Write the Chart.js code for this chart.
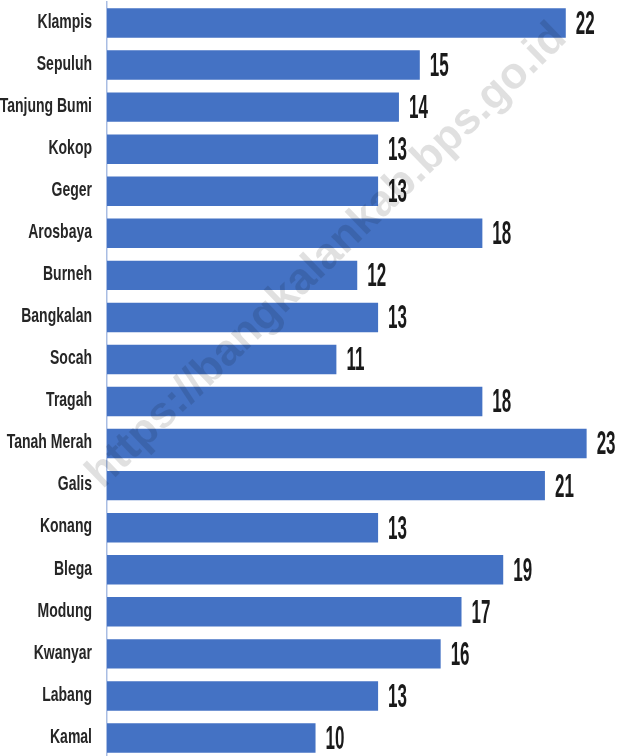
<!DOCTYPE html>
<html>
<head>
<meta charset="utf-8">
<script src="https://cdn.jsdelivr.net/npm/chart.js@4.4.1/dist/chart.umd.min.js"></script>
<style>
  html, body { margin: 0; padding: 0; background: #fff; overflow: hidden; }
  #wrap { position: relative; width: 620px; height: 760px; }
</style>
</head>
<body>
<div id="wrap"><canvas id="kecChart"></canvas></div>
<script>
// Kecamatan di Kabupaten Bangkalan
const kecamatan = ['Klampis', 'Sepuluh', 'Tanjung Bumi', 'Kokop', 'Geger', 'Arosbaya', 'Burneh',
    'Bangkalan', 'Socah', 'Tragah', 'Tanah Merah', 'Galis', 'Konang', 'Blega', 'Modung',
    'Kwanyar', 'Labang', 'Kamal'];
const jumlah = [22, 15, 14, 13, 13, 18, 12, 13, 11, 18, 23, 21, 13, 19, 17, 16, 13, 10];
const watermark = 'https://bangkalankab.bps.go.id';

const narrow = '"Liberation Sans Narrow", "Arial Narrow", "Liberation Sans", sans-serif';

// draws category names, value labels and the watermark (text is stretched vertically like the source)
const textPlugin = {
    id: 'textPlugin',
    afterDatasetsDraw(chart) {
        const ctx = chart.ctx;
        const yScale = chart.scales.y;
        const xScale = chart.scales.x;
        const area = chart.chartArea;

        ctx.save();
        ctx.textBaseline = 'middle';
        kecamatan.forEach((name, i) => {
            const y = yScale.getPixelForValue(i);
            ctx.save();
            ctx.translate(area.left - 15, y - 1);
            ctx.scale(1, 1.5);
            ctx.textAlign = 'right';
            ctx.font = 'bold 14px ' + narrow;
            ctx.fillStyle = '#262626';
            ctx.fillText(name, 0, 0);
            ctx.restore();

            const x = xScale.getPixelForValue(jumlah[i]);
            ctx.save();
            ctx.translate(x + 10, y + 1.5);
            ctx.scale(1, 2.0);
            ctx.textAlign = 'left';
            ctx.font = 'bold 17px ' + narrow;
            ctx.fillStyle = '#1a1a1a';
            ctx.fillText(String(jumlah[i]), 0, 0);
            ctx.restore();
        });

        // watermark
        ctx.save();
        ctx.translate(327, 256);
        ctx.rotate(-44 * Math.PI / 180);
        ctx.font = 'bold 44px "Liberation Sans", Arial, sans-serif';
        ctx.textAlign = 'center';
        ctx.textBaseline = 'middle';
        ctx.fillStyle = 'rgba(0, 0, 0, 0.12)';
        ctx.fillText(watermark, 0, 0);
        ctx.restore();

        ctx.restore();
    }
};

const ctx = document.getElementById('kecChart').getContext('2d');
let chart = new Chart(ctx, {
    type: 'bar',
    data: {
        labels: kecamatan,
        datasets: [{
            data: jumlah,
            backgroundColor: '#4472C4',
            borderWidth: 0,
            barPercentage: 0.7,
            categoryPercentage: 1.0
        }]
    },
    options: {
        indexAxis: 'y',
        responsive: true,
        maintainAspectRatio: false,
        animation: false,
        layout: {
            padding: { top: 2, bottom: 1, left: 0, right: 0 }
        },
        plugins: {
            legend: { display: false },
            tooltip: { enabled: false }
        },
        scales: {
            x: {
                display: false,
                min: 0,
                max: 24.6
            },
            y: {
                grid: { display: false },
                border: { display: true, color: '#a9bde3', width: 1.5 },
                ticks: { display: false },
                afterFit(scale) {
                    scale.width = 107;
                }
            }
        }
    },
    plugins: [textPlugin]
});
</script>
</body>
</html>
